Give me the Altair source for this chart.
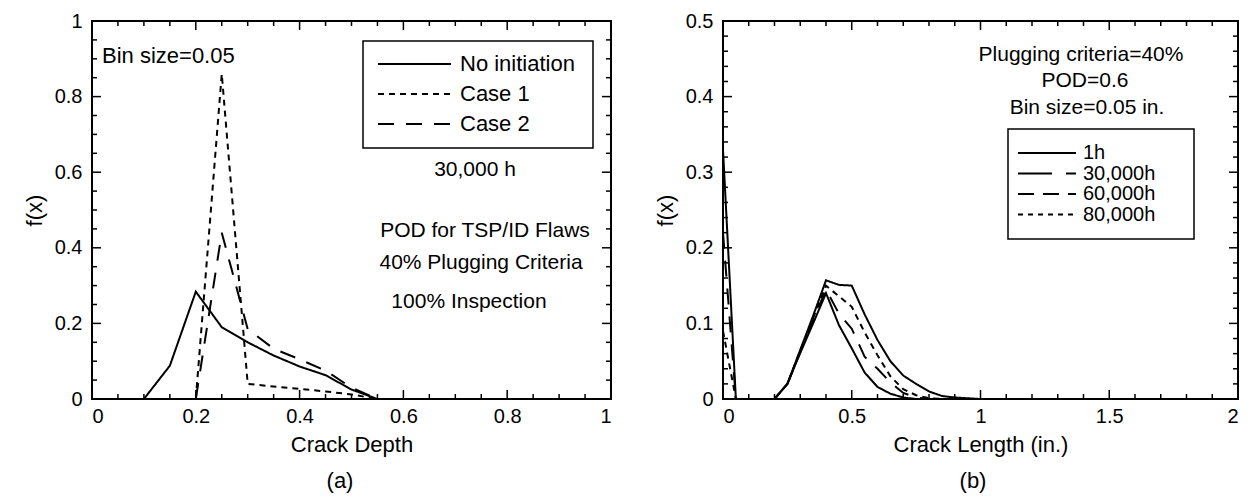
import altair as alt
import pandas as pd

FONT = "Liberation Sans"

# ---------------- Panel (a): crack depth ----------------
depth_none = [0.1, 0.15, 0.2, 0.25, 0.3, 0.35, 0.4, 0.45, 0.5, 0.55]
f_none = [0.0, 0.088, 0.284, 0.19, 0.15, 0.115, 0.086, 0.063, 0.025, 0.0]
depth_case = [0.2, 0.25, 0.3, 0.35, 0.4, 0.45, 0.5, 0.55]
f_case1 = [0.0, 0.86, 0.04, 0.033, 0.027, 0.02, 0.012, 0.0]
f_case2 = [0.0, 0.44, 0.185, 0.133, 0.105, 0.075, 0.03, 0.0]
names_a = ["No initiation", "Case 1", "Case 2"]
dash_a = [[1, 0], [6, 5], [16, 12]]

xa_major = [0, 0.2, 0.4, 0.6, 0.8, 1.0]
xa_minor = [0.05, 0.1, 0.15, 0.25, 0.3, 0.35, 0.45, 0.5, 0.55, 0.65, 0.7, 0.75, 0.85, 0.9, 0.95]
ya_major = [0, 0.2, 0.4, 0.6, 0.8, 1.0]
ya_minor = [0.05, 0.1, 0.15, 0.25, 0.3, 0.35, 0.45, 0.5, 0.55, 0.65, 0.7, 0.75, 0.85, 0.9, 0.95]

# ---------------- Panel (b): crack length ----------------
len_1h = [0.2, 0.25, 0.3, 0.35, 0.4, 0.45, 0.5, 0.55, 0.6, 0.65, 0.7, 0.75, 0.8, 0.85, 0.9, 0.95, 1.0]
f_1h = [0.0, 0.02, 0.065, 0.11, 0.157, 0.151, 0.15, 0.112, 0.078, 0.05, 0.031, 0.02, 0.01, 0.004, 0.002, 0.001, 0.0]
len_30k = [0.0, 0.05, 0.1, 0.15, 0.2, 0.25, 0.3, 0.35, 0.4, 0.45, 0.5, 0.55, 0.6, 0.65, 0.7, 0.75, 0.8, 0.85]
f_30k = [0.09, 0.0, 0.0, 0.0, 0.0, 0.02, 0.064, 0.107, 0.15, 0.136, 0.122, 0.088, 0.058, 0.03, 0.013, 0.005, 0.001, 0.0]
len_60k = [0.0, 0.05, 0.1, 0.15, 0.2, 0.25, 0.3, 0.35, 0.4, 0.45, 0.5, 0.55, 0.6, 0.65, 0.7, 0.75, 0.8]
f_60k = [0.22, 0.0, 0.0, 0.0, 0.0, 0.02, 0.062, 0.104, 0.145, 0.113, 0.093, 0.056, 0.04, 0.022, 0.008, 0.002, 0.0]
len_80k = [0.0, 0.05, 0.1, 0.15, 0.2, 0.25, 0.3, 0.35, 0.4, 0.45, 0.5, 0.55, 0.6, 0.65, 0.7, 0.75]
f_80k = [0.33, 0.0, 0.0, 0.0, 0.0, 0.02, 0.061, 0.1, 0.14, 0.098, 0.067, 0.035, 0.016, 0.007, 0.002, 0.0]
names_b = ["1h", "30,000h", "60,000h", "80,000h"]
dash_b = [[1, 0], [34, 14], [16, 9], [5, 5]]

xb_major = [0, 0.5, 1.0, 1.5, 2.0]
xb_minor = [0.1, 0.2, 0.3, 0.4, 0.6, 0.7, 0.8, 0.9, 1.1, 1.2, 1.3, 1.4, 1.6, 1.7, 1.8, 1.9]
yb_major = [0, 0.1, 0.2, 0.3, 0.4, 0.5]
yb_minor = [0.02, 0.04, 0.06, 0.08, 0.12, 0.14, 0.16, 0.18, 0.22, 0.24, 0.26, 0.28,
            0.32, 0.34, 0.36, 0.38, 0.42, 0.44, 0.46, 0.48]

W1, H1 = 519, 378
W2, H2 = 515, 378
TXT = 21


def frame(series, names, dashes, xdom, ydom, xmaj, xmin, ymaj, ymin, xtitle, W, H):
    rows = []
    for name, (xs, ys) in zip(names, series):
        for xv, yv in zip(xs, ys):
            rows.append({"series": name, "x": xv, "y": yv})
    df = pd.DataFrame(rows)
    xs = alt.Scale(domain=xdom, nice=False, zero=False)
    ys = alt.Scale(domain=ydom, nice=False, zero=False)
    xaxis = alt.Axis(values=xmaj, format="~g", title=xtitle, labelPadding=7, titlePadding=8)
    yaxis = alt.Axis(values=ymaj, format="~g", title="f(x)", labelPadding=10, titlePadding=8)
    lines = alt.Chart(df).mark_line(color="black", strokeWidth=2).encode(
        x=alt.X("x:Q", scale=xs, axis=xaxis),
        y=alt.Y("y:Q", scale=ys, axis=yaxis),
        strokeDash=alt.StrokeDash("series:N", scale=alt.Scale(domain=names, range=dashes), legend=None),
        detail="series:N",
    )
    layers = [lines]
    for vals, L in ((xmaj, 9), (xmin, 5)):
        b = alt.Chart(pd.DataFrame({"v": vals})).mark_rule(color="black", strokeWidth=1.5)
        layers.append(b.encode(x=alt.X("v:Q", scale=xs, axis=xaxis), y=alt.value(H), y2=alt.value(H - L)))
        layers.append(b.encode(x=alt.X("v:Q", scale=xs, axis=xaxis), y=alt.value(0), y2=alt.value(L)))
    for vals, L in ((ymaj, 9), (ymin, 5)):
        b = alt.Chart(pd.DataFrame({"v": vals})).mark_rule(color="black", strokeWidth=1.5)
        layers.append(b.encode(y=alt.Y("v:Q", scale=ys, axis=yaxis), x=alt.value(0), x2=alt.value(L)))
        layers.append(b.encode(y=alt.Y("v:Q", scale=ys, axis=yaxis), x=alt.value(W), x2=alt.value(W - L)))
    return layers


one = pd.DataFrame({"a": [0]})


def text(t, x, y, align="center", size=TXT):
    return alt.Chart(one).mark_text(text=t, align=align, baseline="middle", font=FONT,
                                    fontSize=size, color="black").encode(x=alt.value(x), y=alt.value(y))


def legend(names, dashes, x0, x1, y0, y1, lx0, lx1, tx, ys, size):
    out = [alt.Chart(one).mark_rect(fill="white", stroke="black", strokeWidth=1.5).encode(
        x=alt.value(x0), x2=alt.value(x1), y=alt.value(y0), y2=alt.value(y1))]
    for name, d, yy in zip(names, dashes, ys):
        out.append(alt.Chart(one).mark_rule(color="black", strokeWidth=2, strokeDash=d).encode(
            x=alt.value(lx0), x2=alt.value(lx1), y=alt.value(yy)))
        out.append(text(name, tx, yy, align="left", size=size))
    return out


# Panel (a)
la = frame([(depth_none, f_none), (depth_case, f_case1), (depth_case, f_case2)], names_a, dash_a,
           [0, 1], [0, 1], xa_major, xa_minor, ya_major, ya_minor, "Crack Depth", W1, H1)
la += legend(names_a, dash_a, 271, 501, 20, 127, 286, 359, 368, [43, 73, 103], 22)
la += [
    text("Bin size=0.05", 10, 35, align="left", size=22),
    text("30,000 h", 383, 149),
    text("POD for TSP/ID Flaws", 393, 210),
    text("40% Plugging Criteria", 389, 242),
    text("100% Inspection", 377, 281),
    text("(a)", 248, H1 + 82, size=22),
]
chart_a = alt.layer(*la).properties(width=W1, height=H1)

# Panel (b)
lb = frame([(len_1h, f_1h), (len_30k, f_30k), (len_60k, f_60k), (len_80k, f_80k)], names_b, dash_b,
           [0, 2], [0, 0.5], xb_major, xb_minor, yb_major, yb_minor, "Crack Length (in.)", W2, H2)
lb += [
    text("Plugging criteria=40%", 358, 34),
    text("POD=0.6", 362, 60),
    text("Bin size=0.05 in.", 364, 87),
]
lb += legend(names_b, dash_b, 285, 471, 108, 218, 295, 353, 360, [132, 152.5, 173, 193.5], 20)
lb += [text("(b)", 250, H2 + 82, size=22)]
chart_b = alt.layer(*lb).properties(width=W2, height=H2)

chart = alt.hconcat(chart_a, chart_b, spacing=40).properties(
    padding={"left": 22, "top": 10, "right": 5, "bottom": 5},
    background="white",
).configure_view(stroke="black", strokeWidth=2).configure_axis(
    grid=False, ticks=False, domain=False,
    labelFont=FONT, labelFontSize=20, labelColor="black",
    titleFont=FONT, titleFontSize=22, titleFontWeight="normal", titleColor="black",
)

chart.save("out.html", embed_options={"renderer": "svg", "actions": False})
